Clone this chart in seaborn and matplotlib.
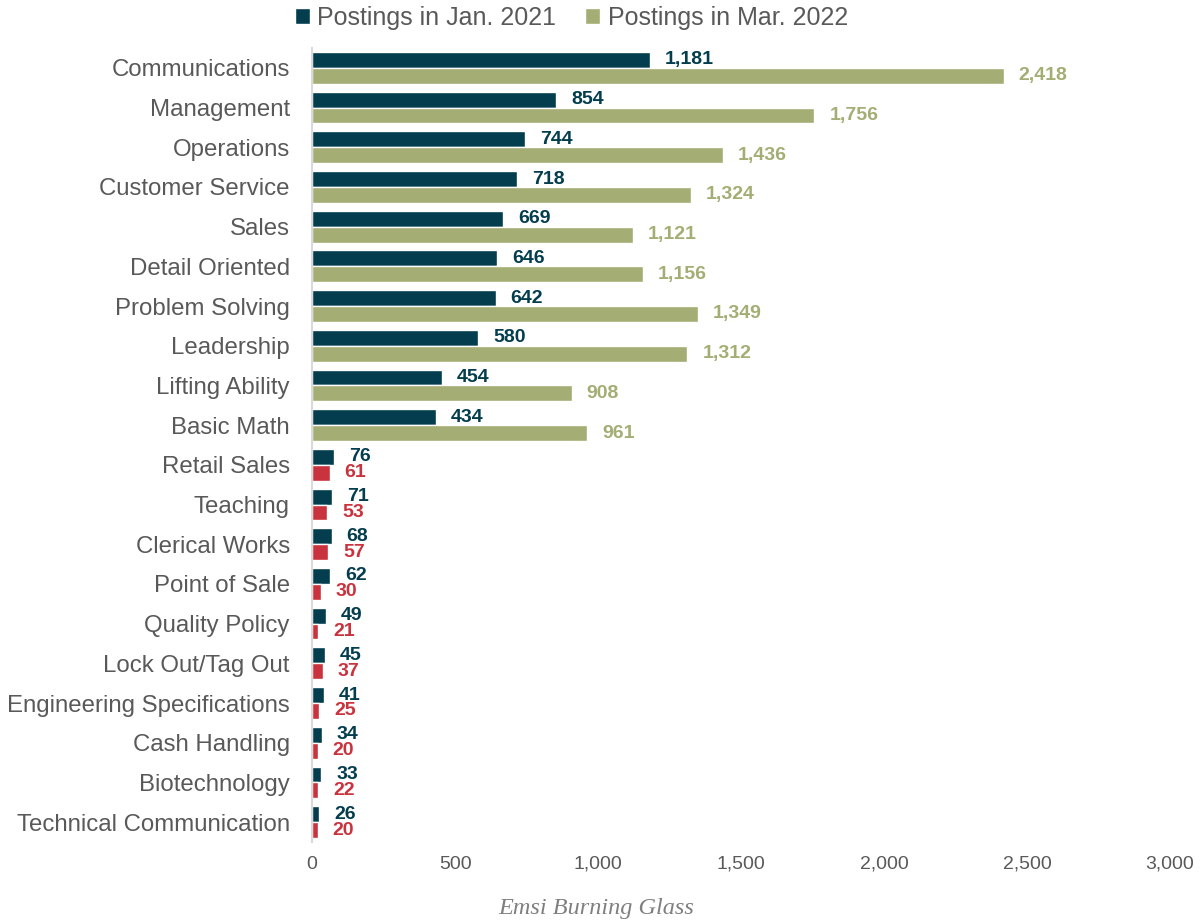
import matplotlib
matplotlib.use("Agg")
import matplotlib.pyplot as plt
import seaborn as sns
import pandas as pd
from matplotlib.patches import Patch

skills = ["Communications", "Management", "Operations", "Customer Service", "Sales",
          "Detail Oriented", "Problem Solving", "Leadership", "Lifting Ability", "Basic Math",
          "Retail Sales", "Teaching", "Clerical Works", "Point of Sale", "Quality Policy",
          "Lock Out/Tag Out", "Engineering Specifications", "Cash Handling", "Biotechnology",
          "Technical Communication"]
jan_2021 = [1181, 854, 744, 718, 669, 646, 642, 580, 454, 434,
            76, 71, 68, 62, 49, 45, 41, 34, 33, 26]
mar_2022 = [2418, 1756, 1436, 1324, 1121, 1156, 1349, 1312, 908, 961,
            61, 53, 57, 30, 21, 37, 25, 20, 22, 20]
series_names = ["Postings in Jan. 2021", "Postings in Mar. 2022"]
x_ticks = [0, 500, 1000, 1500, 2000, 2500, 3000]
x_tick_labels = ["0", "500", "1,000", "1,500", "2,000", "2,500", "3,000"]

DARK = "#033D4E"
GREEN = "#A4AD74"
RED = "#C9333D"
GRAY = "#595959"

sns.set_theme(style="white")
plt.rcParams["font.family"] = ["Liberation Sans", "DejaVu Sans"]

df = pd.DataFrame({
    "skill": skills * 2,
    "value": jan_2021 + mar_2022,
    "period": [series_names[0]] * len(skills) + [series_names[1]] * len(skills),
})

fig = plt.figure(figsize=(12.03, 9.23), dpi=100)
ax = fig.add_axes([0.2594, 0.0878, 0.9726 - 0.2594, 0.948 - 0.0878])

sns.barplot(data=df, y="skill", x="value", hue="period", orient="h",
            palette=[DARK, GREEN], width=0.8, ax=ax, legend=False,
            saturation=1, errorbar=None)

# recolor the second series for the lower group
n_big = 10
for i, p in enumerate(ax.containers[1].patches):
    if i >= n_big:
        p.set_facecolor(RED)

# data labels
for ci, cont in enumerate(ax.containers):
    vals = jan_2021 if ci == 0 else mar_2022
    for i, p in enumerate(cont.patches):
        if ci == 0:
            col = DARK
        else:
            col = GREEN if i < n_big else RED
        ax.annotate(f"{vals[i]:,}", (p.get_width(), p.get_y() + p.get_height() / 2),
                    xytext=(15, 0), textcoords="offset pixels",
                    ha="left", va="center", fontsize=14, fontweight="bold", color=col)

ax.set_xlim(0, 3000)
ax.set_ylim(len(skills) - 0.5, -0.5)
ax.set_xticks(x_ticks)
ax.set_xticklabels(x_tick_labels)
ax.set_xlabel("")
ax.set_ylabel("")
ax.tick_params(axis="x", labelsize=14, colors=GRAY, length=0, pad=10)
ax.tick_params(axis="y", labelsize=17.3, colors=GRAY, length=0, pad=16)
for s in ["top", "right", "bottom"]:
    ax.spines[s].set_visible(False)
ax.spines["left"].set_color("#D9D9D9")
ax.spines["left"].set_linewidth(1.5)

handles = [Patch(facecolor=DARK, label=series_names[0]),
           Patch(facecolor=GREEN, label=series_names[1])]
fig.legend(handles=handles, loc="center", bbox_to_anchor=(0.475, 0.981), ncol=2,
           frameon=False, fontsize=18, handlelength=0.6, handleheight=0.6,
           handletextpad=0.3, columnspacing=1.15, labelcolor=GRAY)

fig.text(0.496, 0.016, "Emsi Burning Glass", ha="center", va="center",
         fontsize=17.5, fontstyle="italic", family=["Liberation Serif", "DejaVu Serif"],
         color="#7F7F7F")

fig.savefig("out.png", dpi=100)
